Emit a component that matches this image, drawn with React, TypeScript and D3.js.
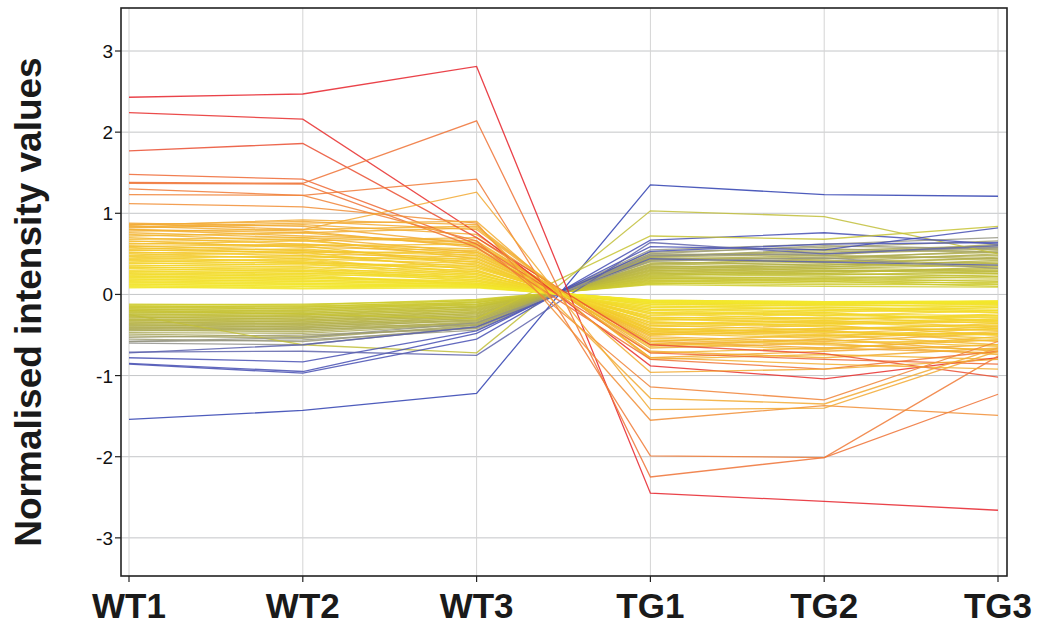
import React, { useRef, useEffect } from 'react';
import * as d3 from 'd3';

// sample names along the x axis
const samples = ['WT1', 'WT2', 'WT3', 'TG1', 'TG2', 'TG3'];
const yTicks = [-3, -2, -1, 0, 1, 2, 3];

// genes higher in WT (values per sample, WT1..TG3)
const wtHighBand = [
  [0.88, 0.84, 0.62, -0.58, -0.66, -0.72],
  [0.86, 0.90, 0.80, -0.78, -0.70, -0.62],
  [0.84, 0.78, 0.58, -0.62, -0.55, -0.70],
  [0.82, 0.86, 0.74, -0.70, -0.78, -0.66],
  [0.80, 0.72, 0.66, -0.66, -0.60, -0.74],
  [0.78, 0.80, 0.84, -0.80, -0.74, -0.80],
  [0.76, 0.70, 0.52, -0.52, -0.58, -0.48],
  [0.74, 0.66, 0.70, -0.72, -0.66, -0.56],
  [0.72, 0.76, 0.60, -0.56, -0.62, -0.68],
  [0.70, 0.62, 0.48, -0.50, -0.44, -0.58],
  [0.68, 0.70, 0.64, -0.60, -0.68, -0.52],
  [0.66, 0.58, 0.54, -0.58, -0.50, -0.62],
  [0.65, 0.68, 0.44, -0.42, -0.48, -0.40],
  [0.63, 0.60, 0.62, -0.64, -0.56, -0.64],
  [0.62, 0.66, 0.50, -0.48, -0.54, -0.46],
  [0.60, 0.54, 0.40, -0.44, -0.38, -0.50],
  [0.59, 0.62, 0.56, -0.54, -0.60, -0.56],
  [0.58, 0.50, 0.46, -0.48, -0.42, -0.44],
  [0.56, 0.60, 0.36, -0.38, -0.44, -0.36],
  [0.55, 0.52, 0.52, -0.50, -0.46, -0.54],
  [0.54, 0.56, 0.42, -0.46, -0.52, -0.42],
  [0.52, 0.48, 0.34, -0.36, -0.32, -0.40],
  [0.51, 0.54, 0.48, -0.44, -0.50, -0.48],
  [0.50, 0.44, 0.38, -0.40, -0.36, -0.34],
  [0.48, 0.52, 0.30, -0.34, -0.40, -0.44],
  [0.47, 0.46, 0.44, -0.46, -0.42, -0.38],
  [0.46, 0.40, 0.32, -0.30, -0.34, -0.30],
  [0.44, 0.48, 0.40, -0.42, -0.46, -0.50],
  [0.43, 0.42, 0.28, -0.28, -0.30, -0.26],
  [0.42, 0.38, 0.36, -0.38, -0.34, -0.42],
  [0.40, 0.44, 0.26, -0.30, -0.36, -0.32],
  [0.39, 0.36, 0.34, -0.32, -0.28, -0.36],
  [0.38, 0.40, 0.24, -0.24, -0.30, -0.28],
  [0.36, 0.34, 0.30, -0.34, -0.38, -0.30],
  [0.35, 0.38, 0.22, -0.26, -0.22, -0.34],
  [0.34, 0.30, 0.28, -0.28, -0.32, -0.24],
  [0.33, 0.34, 0.20, -0.22, -0.26, -0.20],
  [0.32, 0.28, 0.26, -0.30, -0.24, -0.32],
  [0.30, 0.32, 0.18, -0.20, -0.24, -0.26],
  [0.29, 0.26, 0.24, -0.24, -0.20, -0.22],
  [0.28, 0.30, 0.16, -0.18, -0.22, -0.16],
  [0.27, 0.24, 0.22, -0.22, -0.26, -0.28],
  [0.26, 0.28, 0.20, -0.20, -0.16, -0.20],
  [0.25, 0.22, 0.14, -0.16, -0.18, -0.22],
  [0.24, 0.26, 0.18, -0.18, -0.20, -0.14],
  [0.23, 0.20, 0.16, -0.14, -0.16, -0.18],
  [0.22, 0.24, 0.12, -0.12, -0.14, -0.12],
  [0.21, 0.18, 0.14, -0.16, -0.12, -0.16],
  [0.20, 0.22, 0.16, -0.14, -0.18, -0.20],
  [0.19, 0.16, 0.12, -0.10, -0.12, -0.10],
  [0.18, 0.20, 0.14, -0.12, -0.14, -0.14],
  [0.17, 0.14, 0.10, -0.08, -0.10, -0.12],
  [0.16, 0.18, 0.12, -0.10, -0.12, -0.08],
  [0.15, 0.12, 0.10, -0.09, -0.11, -0.10],
  [0.14, 0.16, 0.12, -0.12, -0.10, -0.12],
  [0.13, 0.10, 0.09, -0.07, -0.09, -0.09],
  [0.12, 0.14, 0.11, -0.10, -0.12, -0.10],
  [0.11, 0.08, 0.10, -0.08, -0.10, -0.11],
  [0.10, 0.12, 0.09, -0.09, -0.11, -0.09],
  [0.09, 0.07, 0.08, -0.07, -0.09, -0.08],
  [0.08, 0.10, 0.10, -0.08, -0.10, -0.09],
];

const wtHighOutliers = [
  [2.43, 2.47, 2.81, -2.45, -2.55, -2.66],
  [2.24, 2.16, 0.76, -0.88, -1.04, -0.78],
  [1.77, 1.86, 0.70, -0.62, -0.73, -1.02],
  [1.48, 1.42, 0.62, -0.72, -0.80, -0.86],
  [1.38, 1.37, 2.14, -2.25, -2.01, -1.23],
  [1.37, 1.36, 0.58, -0.80, -0.92, -0.70],
  [1.30, 1.22, 1.42, -1.99, -2.01, -0.76],
  [1.23, 1.22, 0.66, -1.14, -1.30, -0.58],
  [1.12, 1.08, 0.88, -1.55, -1.37, -1.49],
  [0.87, 0.80, 1.26, -1.42, -1.40, -0.70],
  [0.85, 0.92, 0.86, -1.28, -1.35, -0.66],
  [0.83, 0.88, 0.90, -0.96, -0.92, -0.80],
  [0.80, 0.76, 0.82, -0.78, -0.86, -0.92],
];

// genes higher in TG
const tgHighBand = [
  [-0.12, -0.13, -0.06, 0.12, 0.10, 0.09],
  [-0.13, -0.12, -0.08, 0.14, 0.12, 0.12],
  [-0.14, -0.16, -0.07, 0.13, 0.16, 0.10],
  [-0.15, -0.14, -0.10, 0.16, 0.14, 0.15],
  [-0.16, -0.18, -0.09, 0.15, 0.18, 0.13],
  [-0.17, -0.15, -0.12, 0.18, 0.16, 0.18],
  [-0.18, -0.20, -0.10, 0.17, 0.20, 0.16],
  [-0.19, -0.17, -0.13, 0.20, 0.18, 0.22],
  [-0.20, -0.22, -0.12, 0.19, 0.22, 0.20],
  [-0.21, -0.19, -0.15, 0.22, 0.24, 0.26],
  [-0.22, -0.24, -0.14, 0.21, 0.20, 0.24],
  [-0.23, -0.21, -0.16, 0.24, 0.26, 0.22],
  [-0.24, -0.26, -0.15, 0.23, 0.28, 0.30],
  [-0.25, -0.23, -0.18, 0.26, 0.24, 0.28],
  [-0.26, -0.28, -0.17, 0.25, 0.30, 0.26],
  [-0.27, -0.25, -0.20, 0.28, 0.26, 0.34],
  [-0.28, -0.30, -0.19, 0.27, 0.32, 0.30],
  [-0.29, -0.27, -0.22, 0.30, 0.28, 0.32],
  [-0.30, -0.32, -0.21, 0.29, 0.34, 0.38],
  [-0.31, -0.29, -0.24, 0.32, 0.30, 0.28],
  [-0.32, -0.34, -0.23, 0.31, 0.36, 0.40],
  [-0.33, -0.31, -0.26, 0.34, 0.32, 0.36],
  [-0.34, -0.36, -0.25, 0.33, 0.38, 0.34],
  [-0.35, -0.33, -0.28, 0.36, 0.40, 0.44],
  [-0.36, -0.38, -0.27, 0.35, 0.34, 0.42],
  [-0.37, -0.35, -0.30, 0.38, 0.42, 0.38],
  [-0.38, -0.40, -0.29, 0.37, 0.44, 0.48],
  [-0.39, -0.37, -0.32, 0.40, 0.36, 0.46],
  [-0.40, -0.42, -0.31, 0.42, 0.46, 0.52],
  [-0.41, -0.39, -0.33, 0.44, 0.40, 0.50],
  [-0.42, -0.44, -0.34, 0.43, 0.48, 0.44],
  [-0.43, -0.41, -0.36, 0.46, 0.50, 0.56],
  [-0.44, -0.46, -0.35, 0.45, 0.44, 0.54],
  [-0.45, -0.43, -0.38, 0.48, 0.52, 0.58],
  [-0.47, -0.48, -0.37, 0.47, 0.54, 0.60],
  [-0.49, -0.52, -0.40, 0.50, 0.48, 0.62],
  [-0.51, -0.54, -0.38, 0.46, 0.56, 0.52],
  [-0.53, -0.50, -0.42, 0.52, 0.58, 0.66],
  [-0.55, -0.58, -0.41, 0.50, 0.60, 0.56],
  [-0.58, -0.56, -0.44, 0.55, 0.62, 0.70],
  [-0.60, -0.62, -0.40, 0.48, 0.50, 0.58],
];

const tgHighOutliers = [
  [-1.54, -1.43, -1.22, 1.35, 1.23, 1.21],
  [-0.25, -0.62, -0.72, 1.03, 0.96, 0.50],
  [-0.86, -0.97, -0.55, 0.67, 0.76, 0.62],
  [-0.85, -0.95, -0.48, 0.59, 0.55, 0.82],
  [-0.78, -0.83, -0.45, 0.53, 0.62, 0.64],
  [-0.71, -0.70, -0.75, 0.64, 0.50, 0.60],
  [-0.72, -0.62, -0.40, 0.44, 0.40, 0.36],
  [-0.20, -0.24, -0.30, 0.72, 0.68, 0.84],
  [-0.58, -0.53, -0.35, 0.41, 0.45, 0.32],
];

const FONT = '"Liberation Sans", Arial, sans-serif';

const App = () => {
  const svgRef = useRef<SVGSVGElement>(null);

  useEffect(() => {
    const w = 1049;
    const h = 625;
    const left = 121, right = 1007, top = 8, bottom = 576;

    const svg = d3.select(svgRef.current)
      .attr('width', w)
      .attr('height', h);
    svg.selectAll('*').remove();

    const x = d3.scalePoint<string>().domain(samples).range([129, 998]);
    const y = d3.scaleLinear().domain([-3.47, 3.53]).range([bottom, top]);

    // colour follows the WT1 value, blue -> grey -> olive -> yellow -> orange -> red
    const colour = d3.scaleLinear<string>()
      .domain([-1.5, -0.75, -0.62, -0.5, -0.3, -0.12, 0.08, 0.5, 0.9, 1.3, 1.8, 2.4])
      .range(['#2f3fb0', '#4a52b4', '#8e8e96', '#a8a660', '#bcb83e', '#cfcc2c',
        '#f2e72c', '#f3c92c', '#f2a634', '#f07a36', '#ea4a30', '#e6222a'])
      .clamp(true);

    // grid
    svg.append('g')
      .selectAll('line')
      .data(yTicks)
      .join('line')
      .attr('x1', left).attr('x2', right)
      .attr('y1', d => y(d)).attr('y2', d => y(d))
      .attr('stroke', '#c4c6c8').attr('stroke-width', 1);

    svg.append('g')
      .selectAll('line')
      .data(samples)
      .join('line')
      .attr('x1', d => x(d)!).attr('x2', d => x(d)!)
      .attr('y1', top).attr('y2', bottom)
      .attr('stroke', '#d4d4d4').attr('stroke-width', 1);

    const line = d3.line<number>()
      .x((_, i) => x(samples[i])!)
      .y(d => y(d));

    const drawSet = (rows: number[][]) => {
      svg.append('g')
        .selectAll('path')
        .data(rows)
        .join('path')
        .attr('d', d => line(d))
        .attr('fill', 'none')
        .attr('stroke', d => colour(d[0]))
        .attr('stroke-width', 1.3)
        .attr('stroke-opacity', 0.85);
    };

    drawSet(tgHighBand);
    drawSet(tgHighOutliers);
    drawSet(wtHighBand);
    drawSet(wtHighOutliers);

    // frame
    svg.append('rect')
      .attr('x', left).attr('y', top)
      .attr('width', right - left).attr('height', bottom - top)
      .attr('fill', 'none').attr('stroke', '#222').attr('stroke-width', 1.6);

    // y ticks
    const yAxis = svg.append('g');
    yAxis.selectAll('line')
      .data(yTicks)
      .join('line')
      .attr('x1', left - 6).attr('x2', left)
      .attr('y1', d => y(d)).attr('y2', d => y(d))
      .attr('stroke', '#222').attr('stroke-width', 1.2);
    yAxis.selectAll('text')
      .data(yTicks)
      .join('text')
      .attr('x', left - 8)
      .attr('y', d => y(d) + 7)
      .attr('text-anchor', 'end')
      .attr('font-family', FONT)
      .attr('font-size', 19)
      .attr('fill', '#111')
      .text(d => d);

    // x ticks + labels
    const xAxis = svg.append('g');
    xAxis.selectAll('line')
      .data(samples)
      .join('line')
      .attr('x1', d => x(d)!).attr('x2', d => x(d)!)
      .attr('y1', bottom).attr('y2', bottom + 6)
      .attr('stroke', '#222').attr('stroke-width', 1.2);
    xAxis.selectAll('text')
      .data(samples)
      .join('text')
      .attr('x', d => x(d)!)
      .attr('y', 618)
      .attr('text-anchor', 'middle')
      .attr('font-family', FONT)
      .attr('font-weight', 'bold')
      .attr('font-size', 35)
      .attr('fill', '#1a1a1a')
      .text(d => d);

    svg.append('text')
      .attr('transform', 'translate(41,302) rotate(-90)')
      .attr('text-anchor', 'middle')
      .attr('font-family', FONT)
      .attr('font-weight', 'bold')
      .attr('font-size', 37)
      .attr('fill', '#1a1a1a')
      .text('Normalised intensity values');
  }, []);

  return (
    <div>
      <svg ref={svgRef} style={{ position: 'absolute', left: 0, top: 0, background: '#fff' }}></svg>
    </div>
  );
};

export default App;
